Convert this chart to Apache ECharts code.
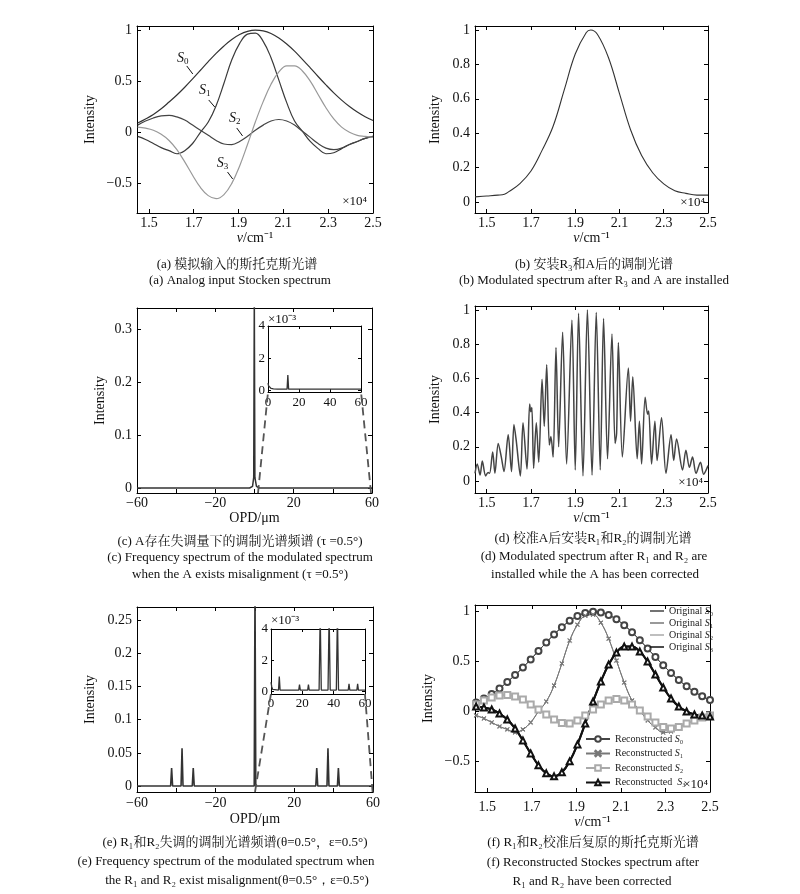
<!DOCTYPE html>
<html><head><meta charset="utf-8">
<script src="https://cdn.jsdelivr.net/npm/echarts@6/dist/echarts.min.js"></script>
<style>html,body{margin:0;padding:0;background:#fff}#c{width:800px;height:894px}</style>
</head><body><div id="c"></div><script>
const SERIF = '"Liberation Serif","Times New Roman",serif';
const CJKF = '"Liberation Serif","Noto Serif CJK SC","Noto Sans CJK SC",serif';

// ---------- data ----------
const nu = [1.45,1.485,1.52,1.555,1.59,1.625,1.66,1.695,1.73,1.765,1.8,1.835,1.87,1.905,1.94,1.975,2.01,2.045,2.08,2.115,2.15,2.185,2.22,2.255,2.29,2.325,2.36,2.395,2.43,2.465,2.5];
const S0 = [0.09,0.13,0.175,0.23,0.296,0.365,0.441,0.522,0.607,0.691,0.772,0.845,0.908,0.956,0.987,1.0,0.993,0.967,0.923,0.864,0.794,0.714,0.631,0.546,0.464,0.386,0.315,0.252,0.198,0.152,0.115];
const S1 = [-0.04,-0.07,-0.11,-0.15,-0.18,-0.21,-0.18,-0.11,0.0,0.10,0.26,0.48,0.71,0.87,0.96,0.97,0.89,0.73,0.51,0.29,0.11,0.01,-0.09,-0.16,-0.21,-0.20,-0.16,-0.12,-0.09,-0.06,-0.04];
const S2 = [0.07,0.11,0.14,0.16,0.165,0.15,0.12,0.07,0.02,-0.03,-0.08,-0.115,-0.12,-0.09,-0.04,0.02,0.07,0.11,0.125,0.11,0.07,0.01,-0.05,-0.11,-0.155,-0.17,-0.155,-0.12,-0.09,-0.06,-0.04];
const S3 = [0.05,0.04,0.02,-0.02,-0.08,-0.17,-0.29,-0.42,-0.54,-0.62,-0.65,-0.61,-0.50,-0.33,-0.12,0.10,0.30,0.47,0.59,0.65,0.65,0.60,0.50,0.37,0.24,0.13,0.05,0.0,-0.03,-0.04,-0.05];

const bX = [1.447,1.5,1.55,1.58,1.6,1.65,1.7,1.75,1.8,1.85,1.9,1.95,1.97,2.0,2.05,2.1,2.15,2.2,2.25,2.3,2.35,2.4,2.45,2.5];
const bY = [0.03,0.035,0.04,0.045,0.06,0.107,0.18,0.30,0.44,0.65,0.86,0.985,1.0,0.975,0.84,0.63,0.42,0.27,0.17,0.105,0.065,0.05,0.04,0.04];

const dX = [1.447,1.457,1.47,1.48,1.495,1.506,1.513,1.527,1.537,1.552,1.566,1.578,1.597,1.612,1.623,1.633,1.652,1.664,1.682,1.694,1.699,1.704,1.712,1.724,1.735,1.75,1.76,1.771,1.783,1.79,1.8,1.813,1.825,1.843,1.861,1.885,1.9,1.915,1.935,1.955,1.976,1.995,2.013,2.028,2.046,2.066,2.08,2.087,2.095,2.113,2.14,2.15,2.16,2.18,2.19,2.2,2.216,2.227,2.232,2.245,2.26,2.27,2.29,2.31,2.333,2.345,2.358,2.385,2.4,2.416,2.43,2.446,2.466,2.48,2.5];
const dY = [0.045,0.10,0.035,0.117,0.03,0.05,0.045,0.17,0.045,0.22,0.14,0.055,0.27,0.055,0.33,0.24,0.03,0.34,0.07,0.45,0.405,0.43,0.075,0.34,0.11,0.595,0.32,0.68,0.21,0.26,0.14,0.78,0.20,0.87,0.10,0.94,0.065,0.98,0.03,1.0,0.035,0.985,0.065,0.95,0.13,0.86,0.22,0.28,0.81,0.14,0.66,0.35,0.61,0.13,0.35,0.10,0.49,0.39,0.41,0.10,0.35,0.12,0.37,0.045,0.27,0.12,0.245,0.065,0.18,0.08,0.14,0.045,0.11,0.04,0.09];

const cX = [-60,-13.3,-12.8,-12.3,-2.5,-1,-0.4,-0.1,0.2,1,2.5,12.3,12.8,13.3,60];
const cY = [0,0,0.0015,0,0,0.003,0.02,0.36,0.02,0.003,0,0,0.0015,0,0];
const icX = [0,0.4,1,2,3.5,6,12.3,12.8,13.3,60];
const icY = [0.45,0.28,0.18,0.12,0.09,0.08,0.08,0.95,0.08,0.08];

const eX = [-60,-42.9,-42.4,-41.9,-37.6,-37.1,-36.6,-31.9,-31.4,-30.9,-0.4,0,0.4,30.9,31.4,31.9,36.6,37.1,37.6,41.9,42.4,42.9,60];
const eY = [0,0,0.027,0,0,0.057,0,0,0.027,0,0,0.3,0,0,0.027,0,0,0.057,0,0,0.027,0,0];
const ieX = [0,0.5,1,2,4.8,5.3,5.8,17.7,18.2,18.7,23.4,23.9,24.4,30.7,31.4,32.1,36.4,37.1,37.8,41.7,42.4,43.1,49.3,49.8,50.3,54.8,55.3,55.8,60];
const ieY = [0.6,0.3,0.15,0.1,0.1,0.97,0.1,0.1,0.45,0.1,0.1,0.45,0.1,0.1,5,0.1,0.1,5,0.1,0.1,5,0.1,0.1,0.5,0.1,0.1,0.5,0.1,0.1];

// tick values
const nuTicks = [1.5,1.7,1.9,2.1,2.3,2.5];
const stokesTicks = [-0.5,0,0.5,1];
const unitTicks = [0,0.2,0.4,0.6,0.8,1];
const opdTicks = [-60,-40,-20,0,20,40,60];
const opdLabels = [-60,-20,20,60];
const cTicks = [0,0.1,0.2,0.3];
const eTicks = [0,0.05,0.1,0.15,0.2,0.25];
const insetXTicks = [0,20,40,60];
const insetYTicks = [0,2,4];

// annotations for panel (a)
const annSub = ['0','1','2','3'];
const annX = [1.651,1.749,1.883,1.829];
const annY = [0.727,0.414,0.14,-0.30];
const ptrX0 = [1.669,1.767,1.892,1.851], ptrY0 = [0.649,0.316,0.042,-0.389];
const ptrX1 = [1.696,1.794,1.918,1.874], ptrY1 = [0.570,0.247,-0.036,-0.457];

// ---------- layout ----------
const grids = [
 {left:137, top:26, width:236, height:187},
 {left:475, top:26, width:233, height:187},
 {left:137, top:308, width:235, height:185},
 {left:268, top:326, width:93, height:66, show:true, backgroundColor:'#fff', borderWidth:0},
 {left:475, top:306, width:233, height:187},
 {left:137, top:607, width:236, height:185},
 {left:271, top:629, width:94, height:65, show:true, backgroundColor:'#fff', borderWidth:0},
 {left:475, top:605, width:235, height:187}
];
const NUNAME = '{i|v}/cm⁻¹';
const specs = [
 {x:{min:1.447,max:2.5,ticks:nuTicks,name:NUNAME,gap:18,margin:3}, y:{min:-0.79,max:1.04,ticks:stokesTicks,name:'Intensity',gap:40,margin:5}},
 {x:{min:1.447,max:2.5,ticks:nuTicks,name:NUNAME,gap:18,margin:3}, y:{min:-0.064,max:1.023,ticks:unitTicks,name:'Intensity',gap:33,margin:5}},
 {x:{min:-60,max:60,ticks:opdTicks,labels:opdLabels,name:'OPD/μm',gap:18,margin:3}, y:{min:-0.0095,max:0.34,ticks:cTicks,name:'Intensity',gap:30,margin:5}},
 {x:{min:0,max:60,ticks:insetXTicks,margin:4,fs:13,tl:3}, y:{min:-0.1,max:4,ticks:insetYTicks,margin:3,fs:13,tl:3}},
 {x:{min:1.447,max:2.5,ticks:nuTicks,name:NUNAME,gap:18,margin:3}, y:{min:-0.07,max:1.023,ticks:unitTicks,name:'Intensity',gap:33,margin:5}},
 {x:{min:-60,max:60,ticks:opdTicks,labels:opdLabels,name:'OPD/μm',gap:20,margin:4}, y:{min:-0.009,max:0.27,ticks:eTicks,name:'Intensity',gap:40,margin:5}},
 {x:{min:0,max:60,ticks:insetXTicks,margin:3,fs:13,tl:3}, y:{min:-0.15,max:4,ticks:insetYTicks,margin:3,fs:13,tl:3}},
 {x:{min:1.445,max:2.5,ticks:nuTicks,name:NUNAME,gap:22,margin:8}, y:{min:-0.807,max:1.067,ticks:stokesTicks,name:'Intensity',gap:40,margin:5}}
];
const fmt = v => String(+(+v).toFixed(4)).replace('-', '−');
function axes(dim, gi, s) {
  const tick = {show:true, inside:true, length:s.tl||4, customValues:s.ticks, lineStyle:{color:'#000', width:1}};
  const common = {type:'value', gridIndex:gi, min:s.min, max:s.max, splitLine:{show:false},
    axisLine:{show:true, onZero:false, lineStyle:{color:'#000', width:1}}, axisTick:tick};
  const fs = s.fs || 14;
  const main = Object.assign({}, common, {
    position: dim === 'x' ? 'bottom' : 'left',
    axisLabel:{show:true, customValues:s.labels || s.ticks, formatter:fmt, margin:s.margin,
      fontFamily:SERIF, fontSize:fs, color:'#111'},
    name:s.name || '', nameLocation:'middle', nameGap:s.gap || 0,
    nameTextStyle:{fontFamily:SERIF, fontSize:14, color:'#111',
      rich:{i:{fontStyle:'italic', fontFamily:SERIF, fontSize:14, color:'#111'}}}
  });
  const mirror = Object.assign({}, common, {position: dim === 'x' ? 'top' : 'right', axisLabel:{show:false}, name:''});
  return [main, mirror];
}
const xAxis = [], yAxis = [];
specs.forEach((s, gi) => { xAxis.push(...axes('x', gi, s.x)); yAxis.push(...axes('y', gi, s.y)); });

function line(gi, xs, ys, color, width, extra) {
  return Object.assign({type:'line', xAxisIndex:2*gi, yAxisIndex:2*gi,
    data: xs.map((x, i) => [x, ys[i]]), symbol:'none', animation:false, clip:true,
    lineStyle:{color:color, width:width}, itemStyle:{color:color}, emphasis:{disabled:true}}, extra || {});
}

const series = [];
// (a)
series.push(line(0, nu, S0, '#333', 1.2, {smooth:0.4,
  markPoint:{symbol:'circle', symbolSize:0, animation:false, silent:true,
    data: annX.map((x, i) => ({coord:[x, annY[i]], value:i})),
    label:{show:true, position:'inside', formatter: p => '{i|S}{s|' + annSub[p.value] + '}', fontFamily:SERIF, fontSize:14, color:'#111',
      rich:{i:{fontStyle:'italic', fontFamily:SERIF, fontSize:14, color:'#111'},
            s:{fontFamily:SERIF, fontSize:9, color:'#111', padding:[8,0,0,0]}}}},
  markLine:{symbol:['none','none'], silent:true, animation:false, label:{show:false},
    lineStyle:{color:'#111', width:1, type:'solid'},
    data: ptrX0.map((x, i) => [{coord:[x, ptrY0[i]]}, {coord:[ptrX1[i], ptrY1[i]]}])}
}));
series.push(line(0, nu, S1, '#3a3a3a', 1.2, {smooth:0.4}));
series.push(line(0, nu, S2, '#444', 1.2, {smooth:0.4}));
series.push(line(0, nu, S3, '#999', 1.2, {smooth:0.4}));
// (b)
series.push(line(1, bX, bY, '#333', 1.1, {smooth:0.4}));
// (c)
const dashed = (pairs) => ({symbol:['none','none'], silent:true, animation:false, label:{show:false},
  lineStyle:{color:'#555', width:1.8, type:[8,5]}, data: pairs});
series.push(line(2, cX, cY, '#333', 1.5, {markLine: dashed([
  [{coord:[1.8,-0.0095]},{coord:[6.9,0.1813]}],
  [{coord:[59.5,-0.0095]},{coord:[54.4,0.1813]}]])}));
series.push(line(3, icX, icY, '#333', 1.3));
// (d)
series.push(line(4, dX, dY, '#444', 1.5, {smooth:0.3}));
// (e)
series.push(line(5, eX, eY, '#333', 1.6, {markLine: dashed([
  [{coord:[0.0,-0.009]},{coord:[8.1,0.1388]}],
  [{coord:[59.8,-0.009]},{coord:[55.9,0.1388]}]])}));
series.push(line(6, ieX, ieY, '#333', 1.3));
// (f)
const fCols = ['#444','#777','#aaa','#111'];
const fW = [1,1,1.5,2];
const fSym = ['emptyCircle','path://M1,0L5,4L9,0L10,1L6,5L10,9L9,10L5,6L1,10L0,9L4,5L0,1Z','emptyRect','emptyTriangle'];
const fSize = [6,4,6,6];
const fData = [S0,S1,S2,S3];
const origNames = ['Original S₀','Original S₁','Original S₂','Original S₃'];
const recNames = ['Reconstructed S₀','Reconstructed S₁','Reconstructed S₂','Reconstructed  S₃'];
fData.forEach((arr, k) => {
  series.push(line(7, nu, arr, fCols[k], fW[k], {name:origNames[k], smooth:0.4}));
});
fData.forEach((arr, k) => {
  series.push(line(7, nu, arr, fCols[k], fW[k], {name:recNames[k], smooth:0.4, symbol:fSym[k], symbolSize:fSize[k],
    showAllSymbol:true, itemStyle:{color:fCols[k], borderColor:fCols[k], borderWidth:1}}));
});

const legTS = {fontFamily:SERIF, fontSize:10, color:'#222', rich:{i:{fontStyle:'italic', fontFamily:SERIF, fontSize:10, color:'#222'}}};
const legFmt = n => n.replace('S', '{i|S}');
const legend = [
  {data:origNames.map(n => ({name:n, icon:'rect'})), left:650, top:606, orient:'vertical', itemWidth:14, itemHeight:1.5, itemGap:2,
    textStyle:legTS, formatter:legFmt, selectedMode:false, padding:0},
  {data:recNames, left:585, top:734, orient:'vertical', itemWidth:24, itemHeight:7, itemGap:4.5,
    textStyle:legTS, formatter:legFmt, selectedMode:false, padding:0}
];

// ---------- texts ----------
function T(x, y, text, opt) {
  opt = opt || {};
  return {type:'text', x:x, y:y, silent:true, z:100, style:{text:text, fontFamily:opt.f || SERIF, fontSize:opt.s || 13,
    fill:'#111', align:opt.a || 'center', verticalAlign:'middle'}};
}
const graphic = [
  T(367, 202, '×10⁴', {a:'right'}),
  T(705, 203, '×10⁴', {a:'right'}),
  T(703, 483, '×10⁴', {a:'right'}),
  T(708, 785, '×10⁴', {a:'right'}),
  T(268, 320, '×10⁻³', {a:'left'}),
  T(271, 621, '×10⁻³', {a:'left'}),
  T(237, 265, '(a) 模拟输入的斯托克斯光谱', {f:CJKF}),
  T(240, 281, '(a) Analog input Stocken spectrum'),
  T(594, 265, '(b) 安装R₃和A后的调制光谱', {f:CJKF}),
  T(594, 281, '(b) Modulated spectrum after R₃ and A are installed'),
  T(240, 542, '(c) A存在失调量下的调制光谱频谱 (τ =0.5°)', {f:CJKF}),
  T(240, 558, '(c) Frequency spectrum of the modulated spectrum'),
  T(240, 575, 'when the A exists misalignment (τ =0.5°)'),
  T(593, 539, '(d) 校准A后安装R₁和R₂的调制光谱', {f:CJKF}),
  T(594, 557, '(d) Modulated spectrum after R₁ and R₂ are'),
  T(595, 575, 'installed while the A has been corrected'),
  T(235, 843, '(e) R₁和R₂失调的调制光谱频谱(θ=0.5°，ε=0.5°)', {f:CJKF}),
  T(226, 862, '(e) Frequency spectrum of the modulated spectrum when'),
  T(237, 881, 'the R₁ and R₂ exist misalignment(θ=0.5°，ε=0.5°)'),
  T(593, 843, '(f) R₁和R₂校准后复原的斯托克斯光谱', {f:CJKF}),
  T(593, 863, '(f) Reconstructed Stockes spectrum after'),
  T(592, 882, 'R₁ and R₂ have been corrected')
];

const chart = echarts.init(document.getElementById('c'), null, {renderer:'canvas'});
chart.setOption({
  backgroundColor:'#fff', animation:false,
  grid: grids.map(g => Object.assign({containLabel:false}, g)),
  xAxis, yAxis, series, legend, graphic
});
</script></body></html>
